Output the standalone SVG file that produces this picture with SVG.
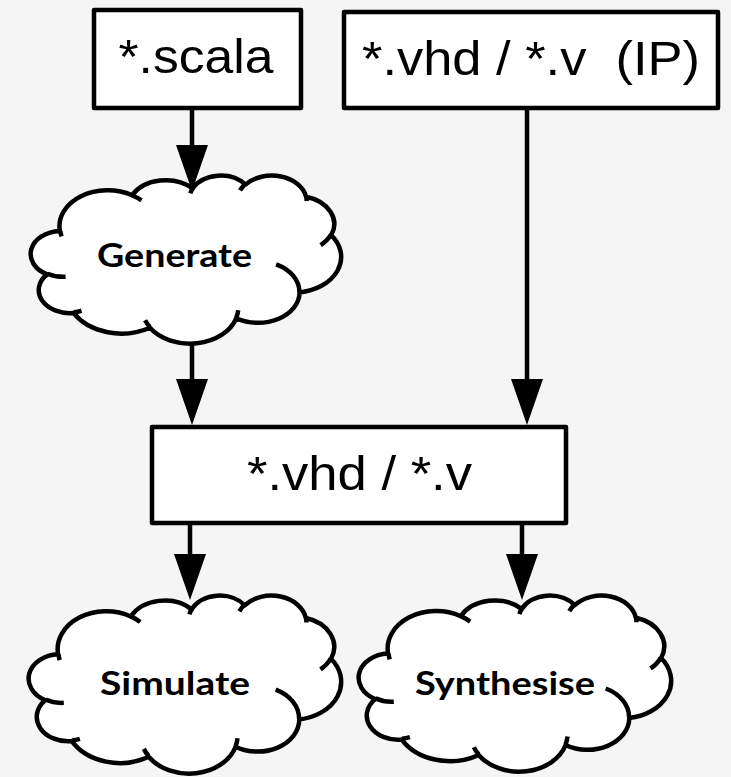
<svg xmlns="http://www.w3.org/2000/svg" xmlns:xlink="http://www.w3.org/1999/xlink" width="731" height="777" viewBox="0 0 731 777">
<style>
.box{fill:#fff;stroke:#000;stroke-width:4.5;stroke-linejoin:round}
.cl{fill:#fff;stroke:#000;stroke-width:4.5;vector-effect:non-scaling-stroke;stroke-linejoin:round}
.inner{fill:none;stroke:#000;stroke-width:4.5;vector-effect:non-scaling-stroke}
.bt{font-family:"Liberation Sans",Arial,sans-serif;font-size:49px;fill:#000;text-anchor:middle}
.ct{font-family:Lato,"Open Sans",sans-serif;font-weight:bold;font-size:32px;fill:#000;text-anchor:middle}
.conn line{stroke:#000;stroke-width:4.5;marker-end:url(#ah)}
</style>
<defs>
<marker id="ah" viewBox="0 0 46 32" markerWidth="46" markerHeight="32" refX="26" refY="16" orient="auto" markerUnits="userSpaceOnUse">
<path d="M0,0 L46,16 L0,32 z" fill="#000"/>
</marker>
<g id="cloud">
<path class="cl" d="M3900 14370 A6753 9190 0 0 1 14005 5202 A5333 7267 0 0 1 22458 3435 A4365 5945 0 0 1 29836 2485 A4857 6595 0 0 1 38321 5579 A5333 7273 0 0 1 41822 15463 A6775 9220 0 0 1 37407 30206 A5785 7867 0 0 1 28559 36816 A6752 9215 0 0 1 16485 39270 A7720 10543 0 0 1 5809 35477 A4360 5918 0 0 1 2116 25557 A4345 5945 0 0 1 3900 14370 Z"/>
<path class="inner" d="M4693 26177 A4345 5945 0 0 1 2159 25379 M6928 34899 A4360 5918 0 0 1 5819 35281 M16478 39090 A6752 9215 0 0 1 15809 37347 M28827 34751 A6752 9215 0 0 1 28561 36660 M34129 22954 A5785 7867 0 0 1 37381 30090 M41798 15354 A5333 7273 0 0 1 40348 18032 M38324 5426 A4857 6595 0 0 1 38400 6690 M29078 3952 A4857 6595 0 0 1 29820 2340 M22141 4720 A4365 5945 0 0 1 22500 3330 M14000 5192 A6753 9190 0 0 1 15303 6544 M4127 15789 A6753 9190 0 0 1 3964 14380"/>
</g>
</defs>
<rect x="0" y="0" width="731" height="777" fill="#f5f5f5"/>

<g id="scala">
<rect class="box" x="94" y="10" width="207" height="98"/>
<text class="bt" x="196" y="73" textLength="155" lengthAdjust="spacingAndGlyphs">*.scala</text>
</g>
<g id="ip">
<rect class="box" x="344" y="12" width="374" height="96"/>
<text class="bt" x="531" y="75" textLength="338" lengthAdjust="spacingAndGlyphs" xml:space="preserve">*.vhd / *.v  (IP)</text>
</g>
<g id="generate">
<use xlink:href="#cloud" href="#cloud" transform="translate(32,175) scale(0.0071528,0.0038889)"/>
<text class="ct" x="174.5" y="267" textLength="155" lengthAdjust="spacingAndGlyphs">Generate</text>
</g>
<g id="vhdv">
<rect class="box" x="152" y="427" width="414" height="96"/>
<text class="bt" x="359.5" y="490" textLength="225" lengthAdjust="spacingAndGlyphs">*.vhd / *.v</text>
</g>
<g id="simulate">
<use xlink:href="#cloud" href="#cloud" transform="translate(30,595) scale(0.0071991,0.0041204)"/>
<text class="ct" x="175" y="695" textLength="150" lengthAdjust="spacingAndGlyphs">Simulate</text>
</g>
<g id="synthesise">
<use xlink:href="#cloud" href="#cloud" transform="translate(360,595) scale(0.0071991,0.0040741)"/>
<text class="ct" x="505" y="695" textLength="180" lengthAdjust="spacingAndGlyphs">Synthesise</text>
</g>

<g id="connectors" class="conn">
<line x1="192" y1="108" x2="192" y2="171"/>
<line x1="192" y1="343" x2="192" y2="405"/>
<line x1="527" y1="108" x2="527" y2="405"/>
<line x1="190" y1="525" x2="190" y2="580"/>
<line x1="522" y1="525" x2="522" y2="580"/>
</g>
</svg>
